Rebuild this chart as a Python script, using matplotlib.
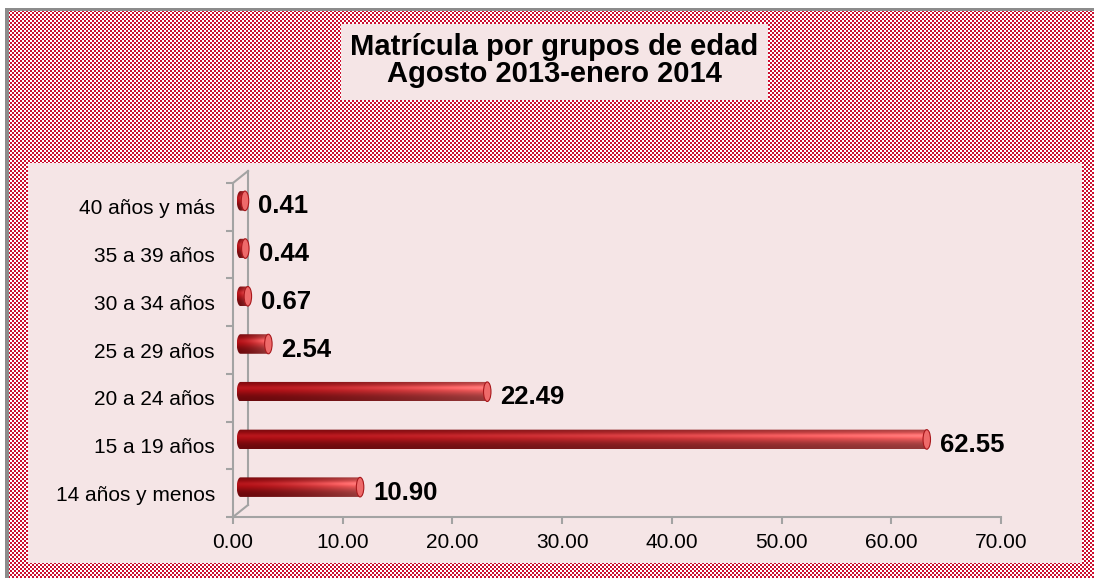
import numpy as np
import matplotlib
matplotlib.use("Agg")
import matplotlib.pyplot as plt
import matplotlib.transforms as mtransforms
from matplotlib.patches import Rectangle, Ellipse, PathPatch
from matplotlib.path import Path
from matplotlib.lines import Line2D

### DATOS ###
categorias = ["14 años y menos", "15 a 19 años", "20 a 24 años", "25 a 29 años",
              "30 a 34 años", "35 a 39 años", "40 años y más"]
porcentajes = [10.90, 62.55, 22.49, 2.54, 0.67, 0.44, 0.41]
etiquetas = ["10.90", "62.55", "22.49", "2.54", "0.67", "0.44", "0.41"]
x_ticks = [0, 10, 20, 30, 40, 50, 60, 70]
titulo = ["Matrícula por grupos de edad", "Agosto 2013-enero 2014"]

### ESTILO ###
W, H = 1094, 578
ROJO = np.array([204, 16, 48]) / 255
ROSA = "#f5e5e6"
GRIS = "#a3a3a3"

plt.rcParams["font.family"] = ["Liberation Sans", "DejaVu Sans"]

fig = plt.figure(figsize=(W / 100, H / 100), dpi=100)

### FONDO CON TRAMA ###
yy, xx = np.mgrid[0:H, 0:W]
fondo = np.ones((H, W, 3))
fondo[(yy // 2 + xx // 2) % 2 == 0] = ROJO
fondo[:11, :] = 1
fondo[:, :9] = 1
fondo[8:11, 5:] = 0.55
fondo[8:, 5:9] = 0.55
fig.figimage(fondo, 0, 0, zorder=-10)


def caja(x0, y0, x1, y1):
    fig.add_artist(Rectangle((x0 / W, 1 - y1 / H), (x1 - x0) / W, (y1 - y0) / H,
                             transform=fig.transFigure, facecolor=ROSA,
                             edgecolor="none", zorder=-5))


caja(341, 24, 768, 100)
caja(28, 163, 1082, 563)

fig.text(554 / W, 1 - 55 / H, titulo[0], ha="center", va="baseline",
         fontsize=21, fontweight="bold")
fig.text(554 / W, 1 - 82 / H, titulo[1], ha="center", va="baseline",
         fontsize=21, fontweight="bold")

### EJES ###
ax = fig.add_axes([233 / W, 61 / H, 768 / W, 334 / H])
ax.patch.set_visible(False)
ax.set_xlim(0, 70)
ax.set_ylim(-0.5, 6.5)
ax.set_autoscale_on(False)

# profundidad 3D (en pulgadas)
prof = mtransforms.ScaledTranslation(0.15, 0.12, fig.dpi_scale_trans)
media = mtransforms.ScaledTranslation(0.075, 0.06, fig.dpi_scale_trans)
tr = ax.transData + media

### CILINDROS ###
h = 0.41
rx = 0.34
nu, nt = 300, 60
u = np.linspace(0, 1, nu)[None, :]
t = np.linspace(-1, 1, nt)[:, None]
oscuro = np.array([176, 14, 20]) / 255
claro = np.array([246, 96, 96]) / 255
sombra = 0.6 + 0.4 * np.exp(-((t - 0.25) / 0.6) ** 2)
brillo = 0.10 * np.exp(-((t - 0.35) / 0.2) ** 2)

for i, (v, lab) in enumerate(zip(porcentajes, etiquetas)):
    y0, y1 = i - h / 2, i + h / 2
    th = np.linspace(np.pi / 2, 3 * np.pi / 2, 40)
    xs = np.concatenate([rx * np.cos(th), [v, v]])
    ys = np.concatenate([i + h / 2 * np.sin(th), [y0, y1]])
    clip = PathPatch(Path(np.column_stack([xs, ys]), closed=False),
                     transform=tr, facecolor="none", edgecolor="none")
    ax.add_patch(clip)

    mezcla = (u ** 1.6)[..., None]
    base = oscuro * (1 - mezcla) + claro * mezcla
    grad = np.clip(base * sombra[..., None] + brillo[..., None] * (0.3 + mezcla), 0, 1)
    im = ax.imshow(grad, extent=[-rx, v, y0, y1], origin="lower", aspect="auto",
                   interpolation="bilinear", transform=tr, zorder=3)
    im.set_clip_path(clip)

    ax.add_patch(Ellipse((v, i), 2 * rx, h, transform=tr, facecolor="#ee6a6a",
                         edgecolor="#a8181c", lw=0.8, zorder=4))

    ax.annotate(lab, (v, i), xycoords=tr, xytext=(9.5, -4),
                textcoords="offset points", ha="left", va="center",
                fontsize=18.5, fontweight="bold")

### PARED DEL FONDO ###
ax.plot([0, 0], [-0.5, 6.5], transform=ax.transData + prof, color=GRIS,
        lw=1.5, clip_on=False, zorder=1)
for yv in (-0.5, 6.5):
    p = ax.transData.transform((0, yv))
    fig.add_artist(Line2D([p[0], p[0] + 15], [p[1], p[1] + 12],
                          transform=mtransforms.IdentityTransform(),
                          color=GRIS, lw=1.5))

### TICKS ###
ax.set_yticks(np.arange(-0.5, 7, 1))
ax.set_yticklabels([])
ax.set_yticks(range(len(categorias)), minor=True)
ax.set_yticklabels(categorias, minor=True)
ax.tick_params(axis="y", which="major", length=5, width=1.5, color=GRIS)
ax.tick_params(axis="y", which="minor", length=0, pad=13, labelsize=15)
ax.set_xticks(x_ticks)
ax.set_xticklabels([f"{x:.2f}" for x in x_ticks])
ax.tick_params(axis="x", length=5, width=1.5, color=GRIS, pad=6.5, labelsize=15)

for s in ("top", "right"):
    ax.spines[s].set_visible(False)
for s in ("left", "bottom"):
    ax.spines[s].set_color(GRIS)
    ax.spines[s].set_linewidth(1.5)

fig.savefig("out.png", dpi=100)
